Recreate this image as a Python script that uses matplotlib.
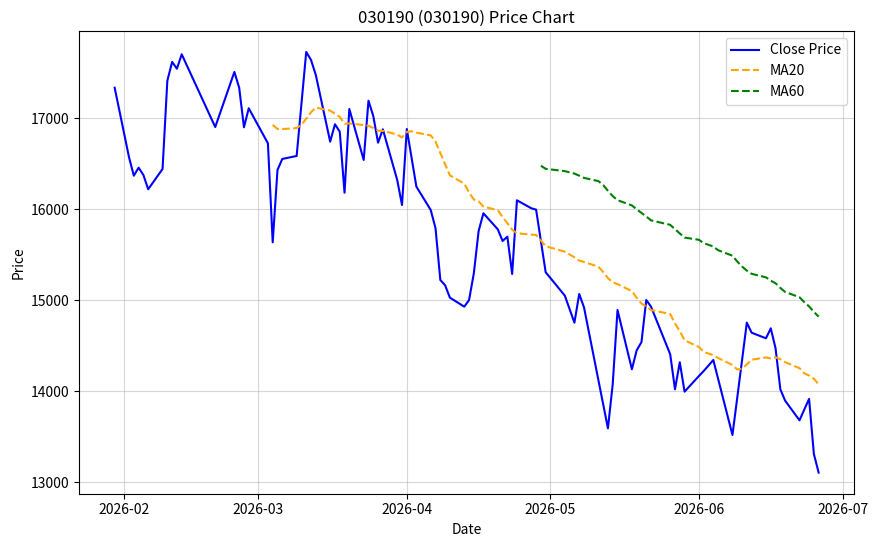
import pandas as pd
import matplotlib
matplotlib.use('Agg')
import matplotlib.pyplot as plt

plt.rcParams['font.family'] = ['Noto Sans CJK KR', 'DejaVu Sans']

ticker = '030190'

# trading days (KRX calendar)
dates = [
    '2026-01-30',
    '2026-02-02', '2026-02-03', '2026-02-04', '2026-02-05', '2026-02-06',
    '2026-02-09', '2026-02-10', '2026-02-11', '2026-02-12', '2026-02-13',
    '2026-02-19', '2026-02-20',
    '2026-02-23', '2026-02-24', '2026-02-25', '2026-02-26', '2026-02-27',
    '2026-03-03', '2026-03-04', '2026-03-05', '2026-03-06',
    '2026-03-09', '2026-03-10', '2026-03-11', '2026-03-12', '2026-03-13',
    '2026-03-16', '2026-03-17', '2026-03-18', '2026-03-19', '2026-03-20',
    '2026-03-23', '2026-03-24', '2026-03-25', '2026-03-26', '2026-03-27',
    '2026-03-30', '2026-03-31', '2026-04-01', '2026-04-02', '2026-04-03',
    '2026-04-06', '2026-04-07', '2026-04-08', '2026-04-09', '2026-04-10',
    '2026-04-13', '2026-04-14', '2026-04-15', '2026-04-16', '2026-04-17',
    '2026-04-20', '2026-04-21', '2026-04-22', '2026-04-23', '2026-04-24',
    '2026-04-27', '2026-04-28', '2026-04-29', '2026-04-30',
    '2026-05-04', '2026-05-06', '2026-05-07', '2026-05-08',
    '2026-05-11', '2026-05-12', '2026-05-13', '2026-05-14', '2026-05-15',
    '2026-05-18', '2026-05-19', '2026-05-20', '2026-05-21', '2026-05-22',
    '2026-05-26', '2026-05-27', '2026-05-28', '2026-05-29',
    '2026-06-01', '2026-06-02', '2026-06-04', '2026-06-05',
    '2026-06-08', '2026-06-09', '2026-06-10', '2026-06-11', '2026-06-12',
    '2026-06-15', '2026-06-16', '2026-06-17', '2026-06-18', '2026-06-19',
    '2026-06-22', '2026-06-23', '2026-06-24', '2026-06-25', '2026-06-26',
]

close = [
    17336,
    16571, 16369, 16457, 16377, 16220,
    16443, 17413, 17619, 17545, 17703,
    17018, 16904,
    17358, 17509, 17336, 16901, 17110,
    16725, 15637, 16432, 16553,
    16586, 17158, 17729, 17641, 17476,
    16743, 16934, 16853, 16182, 17102,
    16542, 17193, 17025, 16732, 16879,
    16322, 16047, 16882, 16566, 16249,
    15992, 15791, 15223, 15165, 15029,
    14930, 15003, 15297, 15762, 15956,
    15780, 15652, 15699, 15289, 16099,
    16011, 15996, 15652, 15308,
    15051, 14754, 15069, 14923,
    14125, 13859, 13593, 14080, 14893,
    14242, 14450, 14540, 15003, 14930,
    14407, 14022, 14319, 13996,
    14168, 14223, 14344, 14138,
    13520, 13930, 14340, 14754, 14644,
    14582, 14692, 14472, 14022, 13897,
    13681, 13800, 13916, 13311, 13106,
]

df = pd.DataFrame({'Close': close}, index=pd.to_datetime(dates))
df['MA20'] = df['Close'].rolling(window=20).mean()
df['MA60'] = df['Close'].rolling(window=60).mean()

fig = plt.figure(figsize=(8.79, 5.46), dpi=100)
ax = fig.add_axes([0.0904, 0.0958, 0.881, 0.8476])
ax.plot(df.index, df['Close'], label='Close Price', color='blue')
ax.plot(df.index, df['MA20'], label='MA20', color='orange', linestyle='--')
ax.plot(df.index, df['MA60'], label='MA60', color='green', linestyle='--')
ax.set_title(f'{ticker} ({ticker}) Price Chart')
ax.set_xlabel('Date')
ax.set_ylabel('Price')
ax.legend()
ax.grid(True, alpha=0.5)

fig.savefig('out.png', dpi=100)
